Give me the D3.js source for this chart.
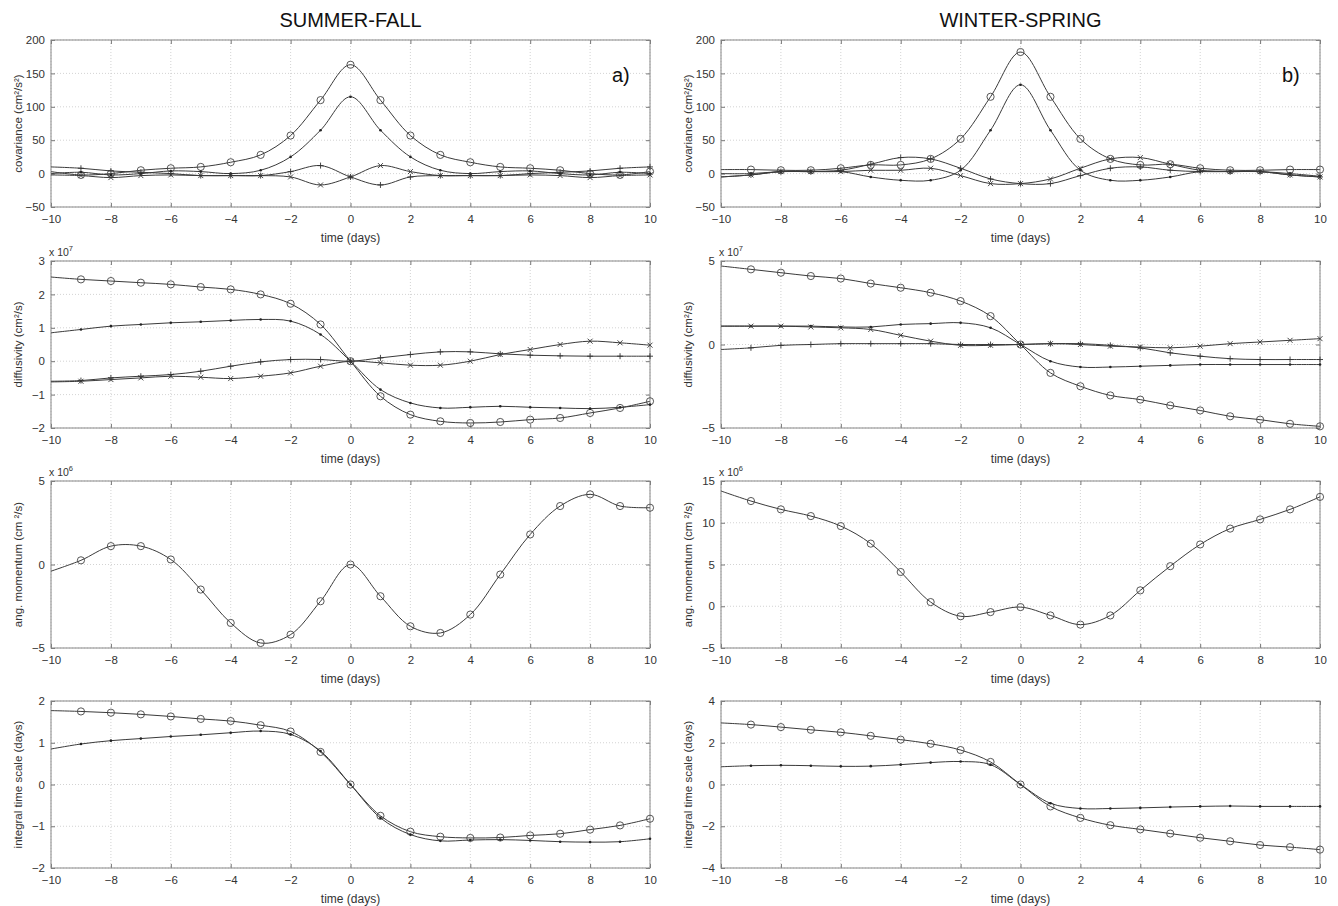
<!DOCTYPE html>
<html>
<head>
<meta charset="utf-8">
<script src="https://cdn.jsdelivr.net/npm/d3@7"></script>
<style>
  body { margin: 0; background: #fff; }
  text { font-family: "Liberation Sans", Arial, sans-serif; }
</style>
</head>
<body>
<div id="graph"></div>
<script>
// days and ticks
const days = [-10,-9,-8,-7,-6,-5,-4,-3,-2,-1,0,1,2,3,4,5,6,7,8,9,10];
const xTicks = [-10,-8,-6,-4,-2,0,2,4,6,8,10];
const titles = ["SUMMER-FALL", "WINTER-SPRING"];
const panelTags = ["a)", "b)"];

// covariance, summer-fall
const covSF_o = [3,-2,0,5,8,10,17,28,57,110,163,110,57,28,17,10,8,5,0,-2,3];
const covSF_d = [0,2,-2,0,4,3,0,5,25,65,115,65,25,5,0,3,4,0,-2,2,0];
const covSF_p = [10,8,4,2,0,-3,-3,-3,3,12,-5,-17,-5,-3,-3,-3,0,2,4,8,10];
const covSF_x = [-2,-3,-6,-3,-2,-3,-3,-3,-5,-17,-5,12,3,-3,-3,-3,-2,-3,-6,-3,-2];
// covariance, winter-spring
const covWS_o = [6,6,5,5,8,13,13,22,52,115,182,115,52,22,13,14,8,5,5,6,6];
const covWS_d = [0,0,3,3,3,-5,-10,-10,5,65,133,65,5,-10,-10,-5,3,3,3,0,-4];
const covWS_p = [-5,-2,3,3,5,14,24,22,8,-8,-15,-15,-3,8,10,5,3,3,3,-2,-5];
const covWS_x = [-5,-2,3,3,3,5,5,8,-3,-15,-15,-8,8,22,24,14,5,3,3,-2,-5];

// diffusivity (x 10^7)
const difSF_o = [2.52,2.45,2.4,2.35,2.3,2.22,2.15,2.0,1.72,1.1,0,-1.05,-1.6,-1.8,-1.85,-1.82,-1.75,-1.7,-1.55,-1.4,-1.2];
const difSF_d = [0.85,0.95,1.05,1.1,1.15,1.18,1.22,1.25,1.2,0.8,0,-0.85,-1.25,-1.4,-1.38,-1.35,-1.38,-1.4,-1.42,-1.38,-1.3];
const difSF_p = [-0.6,-0.58,-0.5,-0.45,-0.4,-0.3,-0.15,-0.02,0.05,0.05,0,0.1,0.2,0.28,0.28,0.22,0.18,0.16,0.15,0.15,0.15];
const difSF_x = [-0.62,-0.6,-0.55,-0.5,-0.45,-0.48,-0.52,-0.45,-0.35,-0.15,0,-0.05,-0.12,-0.12,0,0.2,0.35,0.5,0.6,0.55,0.48];
const difWS_o = [4.7,4.5,4.3,4.1,3.95,3.65,3.4,3.1,2.6,1.7,0,-1.7,-2.5,-3.05,-3.3,-3.65,-3.95,-4.3,-4.5,-4.75,-4.9];
const difWS_d = [1.1,1.1,1.1,1.1,1.05,1.05,1.2,1.25,1.3,1.0,0,-1.0,-1.35,-1.35,-1.3,-1.25,-1.2,-1.2,-1.2,-1.2,-1.2];
const difWS_p = [-0.3,-0.2,-0.05,0,0.05,0.05,0.05,0.05,0,0,0,0.05,0.05,-0.05,-0.2,-0.5,-0.7,-0.85,-0.9,-0.9,-0.9];
const difWS_x = [1.1,1.1,1.1,1.05,1.0,0.9,0.55,0.2,-0.05,-0.05,0,0.05,0,-0.1,-0.15,-0.2,-0.1,0.05,0.15,0.25,0.35];

// angular momentum (x 10^6)
const angSF_o = [-0.4,0.25,1.1,1.1,0.3,-1.5,-3.5,-4.7,-4.2,-2.2,0,-1.9,-3.7,-4.1,-3.0,-0.6,1.8,3.5,4.2,3.5,3.4];
const angWS_o = [13.8,12.6,11.6,10.8,9.6,7.5,4.1,0.5,-1.2,-0.7,-0.1,-1.1,-2.2,-1.1,1.9,4.8,7.4,9.3,10.4,11.6,13.1];

// integral time scale (days)
const itsSF_o = [1.77,1.75,1.72,1.68,1.63,1.57,1.52,1.42,1.27,0.78,0,-0.75,-1.13,-1.25,-1.28,-1.27,-1.22,-1.18,-1.08,-0.98,-0.82];
const itsSF_d = [0.85,0.97,1.05,1.1,1.15,1.19,1.24,1.28,1.2,0.8,0,-0.8,-1.2,-1.35,-1.33,-1.32,-1.34,-1.37,-1.38,-1.37,-1.3];
const itsWS_o = [2.95,2.87,2.75,2.62,2.5,2.33,2.15,1.95,1.65,1.08,0,-1.05,-1.6,-1.95,-2.15,-2.35,-2.55,-2.72,-2.9,-3.0,-3.12];
const itsWS_d = [0.85,0.9,0.92,0.9,0.87,0.88,0.95,1.05,1.1,0.95,0,-0.9,-1.15,-1.15,-1.12,-1.08,-1.05,-1.03,-1.05,-1.05,-1.05];

//Display specifications
const W = 1338, H = 906;
const colLeft = [51, 721];
const rowTop = [40, 261, 481, 701];
const pw = 599, ph = 167;
const lineCol = "#3a3a3a";

const panels = [
  {col:0,row:0,dom:[-50,200],ticks:[-50,0,50,100,150,200],ylab:"covariance (cm²/s²)",exp:null,
   series:[[covSF_o,"o"],[covSF_d,"."],[covSF_p,"+"],[covSF_x,"x"]]},
  {col:1,row:0,dom:[-50,200],ticks:[-50,0,50,100,150,200],ylab:"covariance (cm²/s²)",exp:null,
   series:[[covWS_o,"o"],[covWS_d,"."],[covWS_p,"+"],[covWS_x,"x"]]},
  {col:0,row:1,dom:[-2,3],ticks:[-2,-1,0,1,2,3],ylab:"diffusivity (cm²/s)",exp:"7",
   series:[[difSF_o,"o"],[difSF_d,"."],[difSF_p,"+"],[difSF_x,"x"]]},
  {col:1,row:1,dom:[-5,5],ticks:[-5,0,5],ylab:"diffusivity (cm²/s)",exp:"7",
   series:[[difWS_o,"o"],[difWS_d,"."],[difWS_p,"+"],[difWS_x,"x"]]},
  {col:0,row:2,dom:[-5,5],ticks:[-5,0,5],ylab:"ang. momentum (cm ²/s)",exp:"6",
   series:[[angSF_o,"o"]]},
  {col:1,row:2,dom:[-5,15],ticks:[-5,0,5,10,15],ylab:"ang. momentum (cm ²/s)",exp:"6",
   series:[[angWS_o,"o"]]},
  {col:0,row:3,dom:[-2,2],ticks:[-2,-1,0,1,2],ylab:"integral time scale (days)",exp:null,
   series:[[itsSF_o,"o"],[itsSF_d,"."]]},
  {col:1,row:3,dom:[-4,4],ticks:[-4,-2,0,2,4],ylab:"integral time scale (days)",exp:null,
   series:[[itsWS_o,"o"],[itsWS_d,"."]]}
];

const svg = d3.select("#graph").append("svg")
  .attr("width", W).attr("height", H);

//Column titles
titles.forEach((t, i) => {
  svg.append("text")
    .attr("x", colLeft[i] + pw / 2)
    .attr("y", 27)
    .attr("text-anchor", "middle")
    .style("font-size", "20px")
    .attr("fill", "#111")
    .text(t);
});

const x = d3.scaleLinear().domain([-10, 10]);

panels.forEach((p, k) => {
  const left = colLeft[p.col], top = rowTop[p.row];
  const g = svg.append("g").attr("transform", "translate(" + left + "," + top + ")");
  const xs = x.copy().range([0, pw]);
  const y = d3.scaleLinear().domain(p.dom).range([ph, 0]);

  //Grid
  g.append("g").selectAll("line.gx").data(xTicks).enter().append("line")
    .attr("x1", d => xs(d)).attr("x2", d => xs(d)).attr("y1", 0).attr("y2", ph)
    .attr("stroke", "#c8c8c8").attr("stroke-dasharray", "1,2").attr("stroke-width", 0.8);
  g.append("g").selectAll("line.gy").data(p.ticks).enter().append("line")
    .attr("y1", d => y(d)).attr("y2", d => y(d)).attr("x1", 0).attr("x2", pw)
    .attr("stroke", "#c8c8c8").attr("stroke-dasharray", "1,2").attr("stroke-width", 0.8);

  //Axes with inward ticks
  g.append("g").attr("transform", "translate(0," + ph + ")")
    .call(d3.axisBottom(xs).tickValues(xTicks).tickSize(-4).tickPadding(8).tickFormat(d3.format("d")))
    .call(a => a.select(".domain").remove());
  g.append("g")
    .call(d3.axisTop(xs).tickValues(xTicks).tickSize(-4).tickFormat(""))
    .call(a => a.select(".domain").remove());
  g.append("g")
    .call(d3.axisLeft(y).tickValues(p.ticks).tickSize(-4).tickPadding(6).tickFormat(d3.format("d")))
    .call(a => a.select(".domain").remove());
  g.append("g").attr("transform", "translate(" + pw + ",0)")
    .call(d3.axisRight(y).tickValues(p.ticks).tickSize(-4).tickFormat(""))
    .call(a => a.select(".domain").remove());
  g.selectAll(".tick line").attr("stroke", "#777");
  g.selectAll(".tick text").attr("fill", "#333").style("font-size", "11.5px")
    .style("font-family", "'Liberation Sans', Arial, sans-serif");

  //Box
  g.append("rect").attr("width", pw).attr("height", ph)
    .attr("fill", "none").attr("stroke", "#888").attr("stroke-width", 1);

  //Labels
  g.append("text")
    .attr("x", pw / 2).attr("y", ph + 35)
    .attr("text-anchor", "middle").attr("fill", "#333")
    .style("font-size", "12px").text("time (days)");
  g.append("text")
    .attr("transform", "rotate(-90)")
    .attr("x", -ph / 2).attr("y", -29)
    .attr("text-anchor", "middle").attr("fill", "#333")
    .style("font-size", "11.5px").text(p.ylab);
  if (p.exp) {
    const e = g.append("text").attr("x", -2).attr("y", -5).attr("fill", "#333").style("font-size", "10.5px");
    e.append("tspan").text("x 10");
    e.append("tspan").attr("dy", -5).style("font-size", "7.5px").text(p.exp);
  }
  if (p.row === 0) {
    g.append("text").attr("x", pw - 38).attr("y", 42)
      .attr("fill", "#111").style("font-size", "20px").text(panelTags[p.col]);
  }

  //Lines
  const clipId = "clip" + k;
  g.append("clipPath").attr("id", clipId).append("rect").attr("width", pw).attr("height", ph);
  const line = d3.line()
    .x((d, i) => xs(days[i]))
    .y(d => y(d))
    .curve(d3.curveCatmullRom.alpha(0.5));

  p.series.forEach(([vals, mk]) => {
    g.append("path")
      .attr("clip-path", "url(#" + clipId + ")")
      .attr("fill", "none").attr("stroke", lineCol).attr("stroke-width", 1)
      .attr("d", line(vals));

    const pts = vals.map((v, i) => ({x: days[i], v: v})).filter(d => d.x !== -10);
    const m = g.append("g").selectAll("g").data(pts).enter().append("g")
      .attr("transform", d => "translate(" + xs(d.x) + "," + y(d.v) + ")");
    if (mk === "o") {
      m.append("circle").attr("r", 3.6).attr("fill", "none").attr("stroke", "#444").attr("stroke-width", 0.9);
    } else if (mk === ".") {
      m.append("circle").attr("r", 1.3).attr("fill", "#222");
    } else if (mk === "+") {
      m.append("path").attr("d", "M-3,0H3M0,-3V3").attr("stroke", "#333").attr("stroke-width", 0.9);
    } else {
      m.append("path").attr("d", "M-2.5,-2.5L2.5,2.5M-2.5,2.5L2.5,-2.5").attr("stroke", "#333").attr("stroke-width", 0.9);
    }
  });
});
</script>
</body>
</html>
